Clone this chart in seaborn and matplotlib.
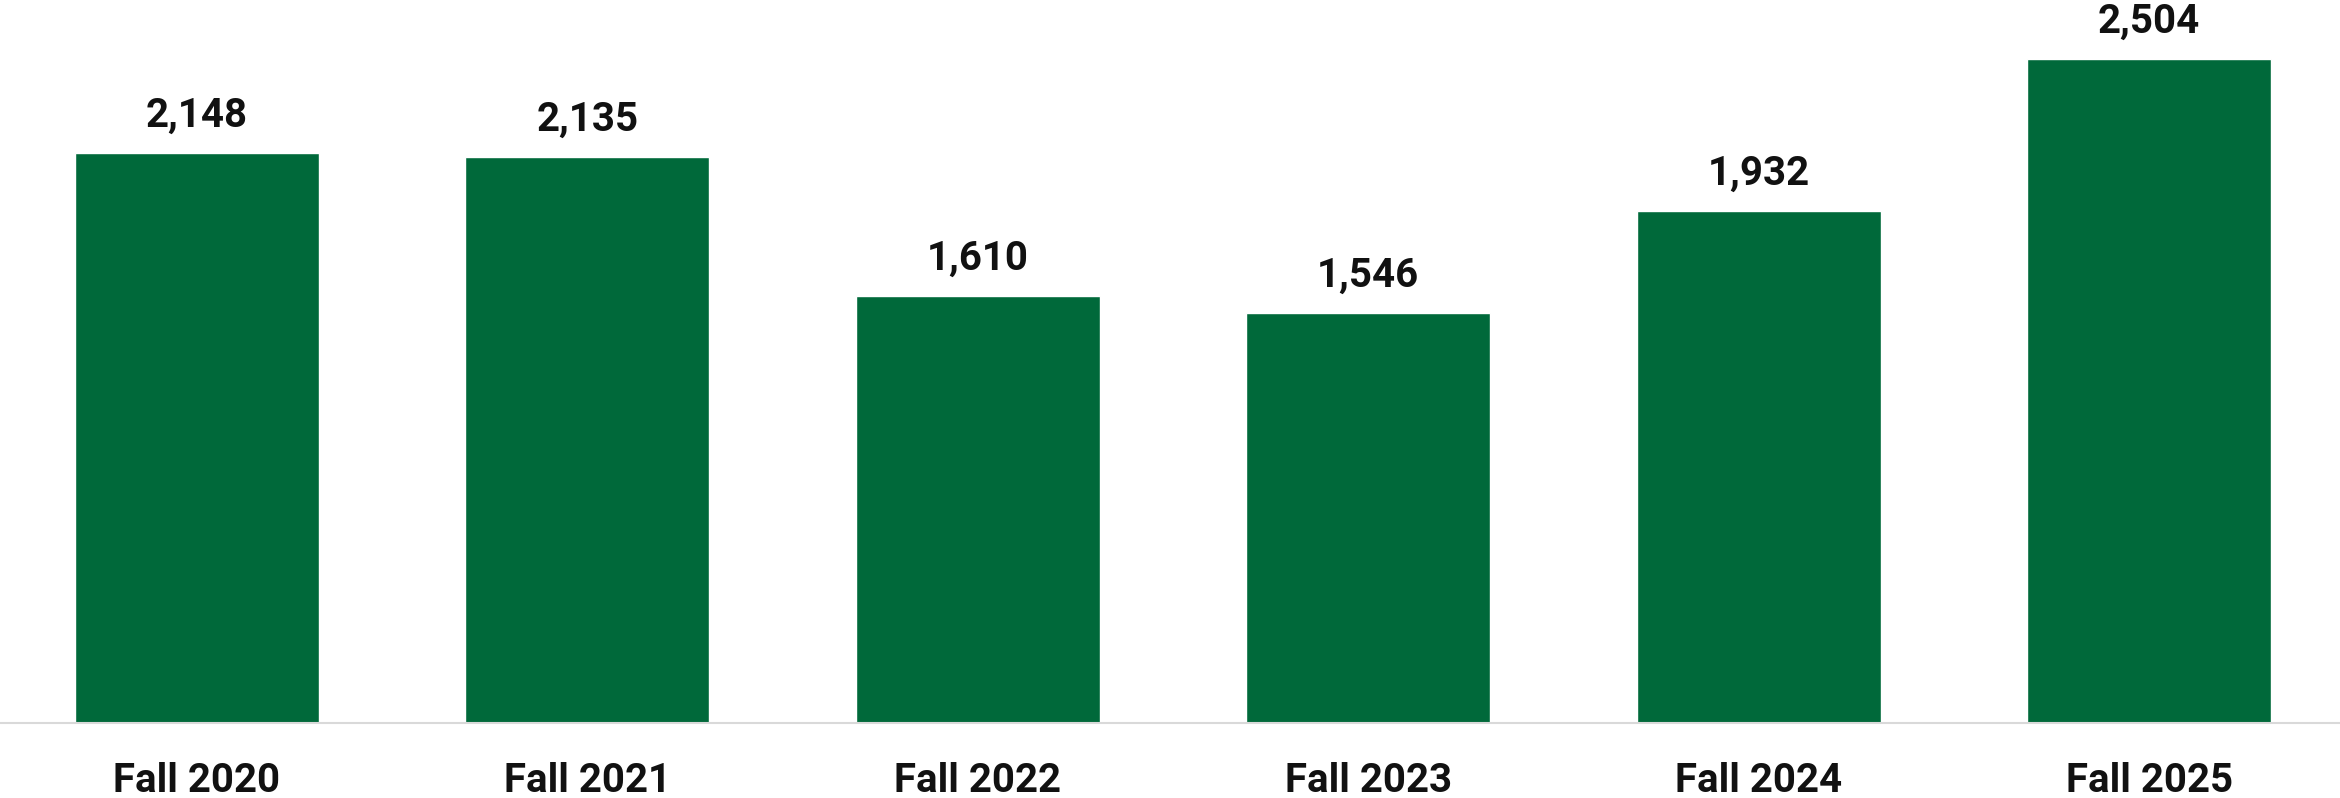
import matplotlib
matplotlib.use("Agg")
import matplotlib.pyplot as plt
import seaborn as sns
import pandas as pd

terms = ["Fall 2020", "Fall 2021", "Fall 2022", "Fall 2023", "Fall 2024", "Fall 2025"]
enrollment = [2148, 2135, 1610, 1546, 1932, 2504]

sns.set_theme(style="white")
plt.rcParams["font.family"] = ["Roboto", "DejaVu Sans"]

df = pd.DataFrame({"term": terms, "enrollment": enrollment})

fig = plt.figure(figsize=(23.4, 7.98), dpi=100)
ax = fig.add_axes([0.0, 1 - 723 / 798, 1.0, 723 / 798])

sns.barplot(data=df, x="term", y="enrollment", color="#00693A",
            saturation=1, width=0.625, ax=ax)

for i, v in enumerate(enrollment):
    ax.annotate(f"{v:,}", xy=(i, v), xytext=(0, 13), textcoords="offset points",
                ha="center", va="bottom", fontsize=29, fontweight="bold",
                color="#111111")

ax.set_xlim(-0.5046, 5.489)
ax.set_ylim(0, 2726)
ax.set_xlabel("")
ax.set_ylabel("")
ax.set_yticks([])
ax.tick_params(axis="x", length=0, pad=28, labelsize=29, labelcolor="#111111")
for lbl in ax.get_xticklabels():
    lbl.set_fontweight("bold")

for side in ["top", "right", "left"]:
    ax.spines[side].set_visible(False)
ax.spines["bottom"].set_color("#D9D9D9")
ax.spines["bottom"].set_linewidth(1.5)

fig.savefig("out.png", dpi=100, facecolor="white")
